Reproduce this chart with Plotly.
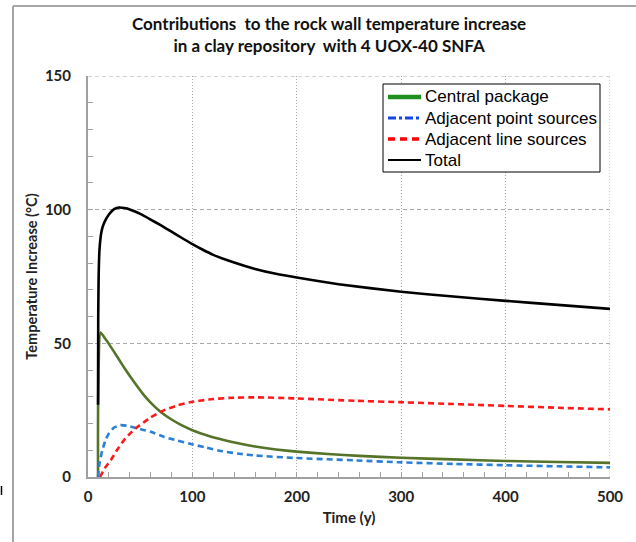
import plotly.graph_objects as go

# Time (years) and temperature increase (deg C) for each contribution
t_central = [9.6, 9.7, 12, 16, 20, 28, 36, 44, 52, 60, 70, 80, 90, 100, 115,
             130, 145, 160, 180, 200, 230, 260, 300, 350, 400, 450, 500]
central = [0, 27, 54, 52, 49.8, 45, 40.1, 35.6, 31.4, 27.8, 24.2, 21.5, 19.3,
           17.5, 15.4, 13.8, 12.5, 11.4, 10.3, 9.5, 8.6, 7.9, 7.2, 6.6, 6.0,
           5.6, 5.3]

t_point = [9.6, 11, 13.7, 17, 20, 25, 31, 37, 44, 52, 60, 73, 85, 97, 113,
           129, 145, 161, 199, 257, 298, 350, 400, 450, 500]
point = [0, 5, 10, 14, 16.3, 18.5, 19.4, 19.2, 18.5, 17.7, 16.9, 15, 13.7,
         12.5, 11, 9.6, 8.7, 8.0, 7.1, 6.2, 5.5, 4.9, 4.4, 4.0, 3.6]

t_line = [11.5, 16, 21.8, 28, 34.5, 41, 47.3, 54, 60, 73, 85, 97, 116, 135,
          161, 199, 257, 298, 350, 400, 450, 500]
line = [0, 3.3, 6.3, 10.2, 13.8, 16.5, 18.7, 20.6, 22.3, 25, 26.7, 27.9, 29,
        29.6, 29.8, 29.4, 28.5, 28, 27.3, 26.6, 25.9, 25.3]

t_total = [9.6, 9.8, 10.2, 11, 13, 15.4, 20, 25, 30, 35, 40, 45, 50, 60, 70,
           80, 90, 100, 110, 120, 140, 160, 180, 200, 240, 300, 350, 400, 450,
           500]
total = [27, 60, 75, 85, 92, 95, 98.2, 100.2, 100.8, 100.6, 100.1, 99.3, 98.4,
         96.3, 94.1, 91.8, 89.4, 87.1, 85, 83.1, 80.2, 77.8, 76, 74.6, 72.1,
         69.3, 67.5, 65.9, 64.4, 62.9]

names = ["Central package", "Adjacent point sources",
         "Adjacent line sources", "Total"]
x_ticks = [0, 100, 200, 300, 400, 500]
y_ticks = [0, 50, 100, 150]

W, H = 636, 542
ML, MR, MT, MB = 88, 26, 76, 65
PW, PH = W - ML - MR, H - MT - MB


def px_x(p):
    return (p - ML) / PW


def px_y(p):
    return (H - MB - p) / PH


fig = go.Figure()

series_styles = [
    dict(color="#56732a", width=2.6),
    dict(color="#2a7fd6", width=2.6, dash="6px,4px"),
    dict(color="#ff1a1a", width=2.6, dash="6px,4px"),
    dict(color="#000000", width=2.6),
]
for tx, vy, st, nm in zip([t_central, t_point, t_line, t_total],
                          [central, point, line, total], series_styles, names):
    fig.add_trace(go.Scatter(x=tx, y=vy, mode="lines", name=nm, showlegend=False,
                             line=dict(shape="spline", smoothing=0.5, **st)))

grid = "#a8a8a8"
frame = dict(color="#a6a6a6", width=2)
shapes = [
    # chart frame: left and top edges
    dict(type="line", xref="paper", yref="paper", x0=px_x(13), x1=px_x(W),
         y0=px_y(6), y1=px_y(6), line=frame, layer="above"),
    dict(type="line", xref="paper", yref="paper", x0=px_x(13), x1=px_x(13),
         y0=px_y(6), y1=px_y(H), line=frame, layer="above"),
    dict(type="line", xref="paper", yref="paper", x0=px_x(1.5), x1=px_x(1.5),
         y0=px_y(486), y1=px_y(495), line=dict(color="#000000", width=1.5)),
    # top and right grid lines at the range limits
    dict(type="line", xref="x", yref="y", x0=0, x1=x_ticks[-1], y0=y_ticks[-1], y1=y_ticks[-1],
         line=dict(color=grid, width=1, dash="4px,3px"), layer="below"),
    dict(type="line", xref="x", yref="y", x0=x_ticks[-1], x1=x_ticks[-1], y0=0, y1=y_ticks[-1],
         line=dict(color=grid, width=1, dash="1px,2px"), layer="below"),
    # legend box
    dict(type="rect", xref="paper", yref="paper", x0=px_x(383), x1=px_x(600),
         y0=px_y(84), y1=px_y(172), line=dict(color="#000000", width=1),
         fillcolor="white", layer="above"),
]

legend_styles = [
    dict(color="#1f8f1f", width=4.5),
    dict(color="#1446e6", width=3, dash="8px,3px,3px,3px"),
    dict(color="#ff0000", width=3.5, dash="7px,5px"),
    dict(color="#000000", width=2),
]
legend_rows = [97, 118, 139, 160]
annotations = []
for nm, st, yr in zip(names, legend_styles, legend_rows):
    shapes.append(dict(type="line", xref="paper", yref="paper", x0=px_x(388), x1=px_x(421),
                       y0=px_y(yr), y1=px_y(yr), line=st, layer="above"))
    annotations.append(dict(text=nm, xref="paper", yref="paper", x=px_x(423), y=px_y(yr),
                            xanchor="left", yanchor="middle", showarrow=False,
                            font=dict(family="Liberation Sans, Arial, sans-serif",
                                      size=17, color="#000000")))

annotations.append(dict(
    text="Contributions  to the rock wall temperature increase<br>in a clay repository  with 4 UOX-40 SNFA",
    xref="paper", yref="paper", x=px_x(329), y=px_y(11), xanchor="center", yanchor="top",
    showarrow=False, align="center",
    font=dict(family="Lato, Noto Sans, sans-serif", size=17, color="#111111", weight="bold"),
))

axis_font = dict(family="Lato, Noto Sans, sans-serif", size=15, color="#222222", weight="bold")

fig.update_layout(
    width=W, height=H,
    margin=dict(l=ML, r=MR, t=MT, b=MB),
    paper_bgcolor="white", plot_bgcolor="white",
    shapes=shapes, annotations=annotations,
    showlegend=False,
    xaxis=dict(
        range=[0, 500], tickvals=x_ticks,
        showline=True, linecolor="#a0a0a0", linewidth=2,
        showgrid=True, gridcolor=grid, griddash="1px,2px", gridwidth=1,
        ticks="inside", ticklen=5, tickcolor="#a0a0a0",
        minor=dict(dtick=20, ticks="inside", ticklen=5, tickcolor="#a0a0a0", showgrid=False),
        tickfont=axis_font, ticklabelstandoff=5,
        title=dict(text="Time (y)", font=axis_font, standoff=8),
        zeroline=False,
    ),
    yaxis=dict(
        range=[0, 150], tickvals=y_ticks,
        showline=True, linecolor="#a0a0a0", linewidth=2,
        showgrid=True, gridcolor=grid, griddash="4px,3px", gridwidth=1,
        ticks="inside", ticklen=5, tickcolor="#a0a0a0",
        minor=dict(dtick=10, ticks="inside", ticklen=5, tickcolor="#a0a0a0", showgrid=False),
        tickfont=axis_font, ticklabelstandoff=12,
        title=dict(text="Temperature Increase (°C)",
                   font=dict(family="Lato, Noto Sans, sans-serif", size=14.5,
                             color="#222222", weight="bold"), standoff=4),
        zeroline=False,
    ),
)

fig.write_html("out.html")
